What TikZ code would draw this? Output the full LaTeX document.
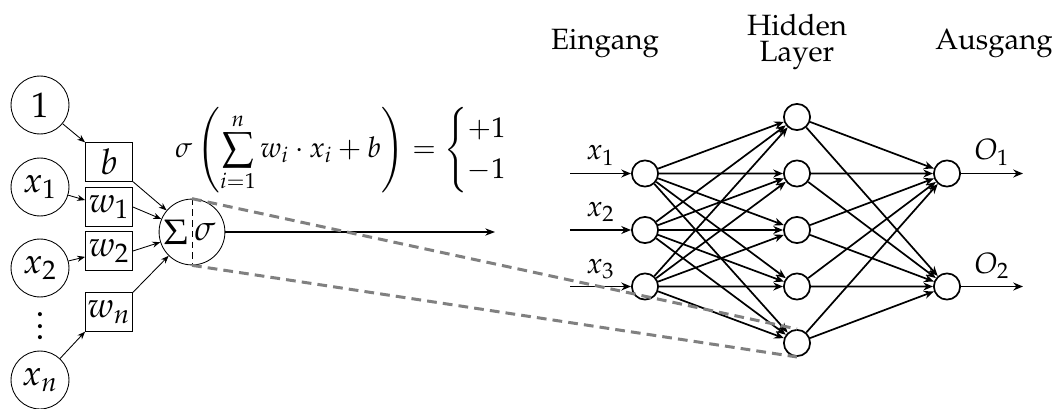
\documentclass[tikz,border=0pt]{standalone}
\usepackage{amsmath}
\usepackage[T1]{fontenc}
\usepackage{mathpazo}
\usetikzlibrary{arrows.meta, positioning, calc}

\tikzset{
  gross/.style={font=\fontsize{16.5}{20}\selectfont},
  eingabe/.style={circle, draw, minimum size=9.5mm, inner sep=0pt, gross},
  gewicht/.style={rectangle, draw, minimum width=7.7mm, minimum height=6.3mm, inner sep=0pt, gross},
  summe/.style={circle, draw, minimum size=10.8mm, inner sep=0pt},
  neuron/.style={circle, draw, thick, minimum size=4.3mm, inner sep=0pt},
  pfeil/.style={-{Stealth[length=1.3mm, width=1mm]}},
  verbindung/.style={-{Stealth[length=1.6mm, width=1.3mm]}, thick},
  lupe/.style={gray, line width=1.4pt, dash pattern=on 1.6mm off 1mm},
}

\begin{document}
\begin{tikzpicture}[x=1.64mm, y=1.64mm, font=\fontsize{13.7}{16.5}\selectfont]
  \useasboundingbox (0,0) rectangle (105.2,-40.8);
  % Perzeptron
  \node[eingabe] (one) at (4.0,-10.5) {$1$};
  \node[eingabe] (in1) at (4.0,-18.7) {$x_1$};
  \node[eingabe] (in2) at (4.0,-26.8) {$x_2$};
  \node[inner sep=0pt, gross] (dots) at (4.0,-32.6)
    {\vbox{\baselineskip=5.2pt\lineskiplimit=0pt\hbox{.}\hbox{.}\hbox{.}}};
  \node[eingabe] (inn) at (4.0,-38.0) {$x_n$};
  \node[gewicht] (wb) at (10.9,-16.2) {$b$};
  \node[gewicht] (w1) at (10.9,-20.7) {$w_1$};
  \node[gewicht] (w2) at (10.9,-25.1) {$w_2$};
  \node[gewicht] (wn) at (10.9,-31.2) {$w_n$};
  \node[summe] (sum) at (19.2,-23.2) {};
  \node[inner sep=0pt, gross] (sumsym) at ($(sum)+(-1.6,0)$) {$\Sigma$};
  \node[inner sep=0pt, gross] (aktiv) at ($(sum)+(1.3,0)$) {$\sigma$};
  \draw[densely dashed, thin] (sum.north) -- (sum.south);
  \draw[pfeil] (one) -- (wb.north west);
  \draw[pfeil] (in1) -- (w1);
  \draw[pfeil] (in2) -- (w2);
  \draw[pfeil] (inn) -- (wn.south west);
  \draw[pfeil] (wb.south east) -- (sum);
  \draw[pfeil] (w1.east) -- (sum);
  \draw[pfeil] (w2.east) -- (sum);
  \draw[pfeil] (wn.north east) -- (sum);
  \coordinate (aus) at (49.5,-23.2);
  \draw[-{Stealth[length=1.6mm, width=1.2mm]}, semithick] (sum) -- (aus);
  \node[font=\fontsize{13.3}{16}\selectfont] (formel) at (35.6,-15.0)
    {$\sigma\left(\displaystyle\sum_{i=1}^{n} w_i\cdot x_i + b\right) = \begin{cases}+1\\-1\end{cases}$};

  % Netz
  \node (t-ein) at (60.5,-4.3) {Eingang};
  \node[align=center, font=\fontsize{13.7}{12}\selectfont] (t-hid) at (79.7,-4.2) {Hidden\\Layer};
  \node (t-aus) at (99.4,-4.3) {Ausgang};
  \foreach \i in {1,2,3} {
    \node[neuron] (i\i) at (64.5,{-17.35-5.65*(\i-1)}) {};
    \coordinate (e\i) at (57.0,{-17.35-5.65*(\i-1)});
    \draw[verbindung] (e\i) -- node[above] {$x_\i$} (i\i);
  }
  \foreach \h in {1,...,5}
    \node[neuron] (h\h) at (79.7,{-11.7-5.65*(\h-1)}) {};
  \foreach \o/\y in {1/-17.35, 2/-28.65} {
    \node[neuron] (o\o) at (94.7,\y) {};
    \coordinate (a\o) at (102.3,\y);
    \draw[verbindung] (o\o) -- node[above] {$O_\o$} (a\o);
  }
  \foreach \i in {1,2,3}
    \foreach \h in {1,...,5}
      \draw[verbindung] (i\i) -- (h\h);
  \foreach \h in {1,...,5}
    \foreach \o in {1,2}
      \draw[verbindung] (h\h) -- (o\o);

  % Lupe
  \draw[lupe] (sum.north) -- (h5.north);
  \draw[lupe] (sum.south) -- (h5.south);
\end{tikzpicture}
\end{document}
